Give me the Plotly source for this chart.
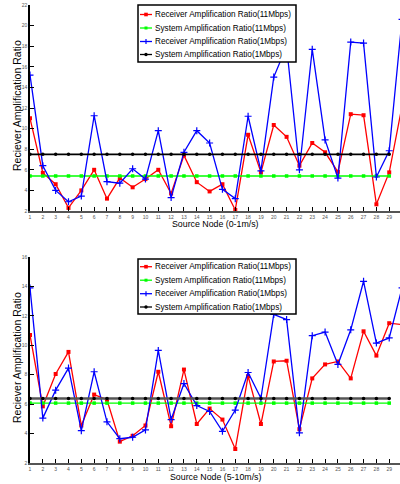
import plotly.graph_objects as go

nodes = list(range(1, 31))

# Top panel: Source Node (0-1m/s)
top_rx_11 = [11.0, 5.7, 4.6, 2.3, 4.0, 6.0, 3.2, 5.2, 4.3, 5.1, 6.0, 3.7, 7.4, 4.8, 3.9,
             4.6, 2.1, 9.4, 5.75, 10.35, 9.2, 6.4, 8.6, 7.7, 5.8, 11.4, 11.3, 2.65, 5.75, 12.2]
top_sys_11 = [5.4] * 29
top_rx_1 = [15.2, 6.4, 4.0, 2.9, 3.45, 11.25, 4.85, 4.7, 6.1, 5.1, 9.8, 3.3, 7.7, 9.8, 8.6,
            4.1, 3.2, 11.2, 5.9, 15.0, 18.0, 6.0, 17.7, 8.9, 5.2, 18.4, 18.3, 5.3, 7.85, 20.6]
top_sys_1 = [7.5] * 29

# Bottom panel: Source Node (5-10m/s)
bot_rx_11 = [10.7, 5.85, 8.05, 9.55, 4.55, 6.65, 6.3, 3.45, 3.85, 4.55, 8.2, 4.5, 8.35, 4.65, 5.7,
             4.95, 2.95, 7.9, 4.65, 8.9, 8.95, 4.3, 7.75, 8.7, 8.9, 7.75, 10.95, 9.3, 11.5, 11.4]
bot_sys_11 = [6.07] * 29
bot_rx_1 = [13.9, 5.05, 6.95, 8.45, 4.2, 8.2, 4.8, 3.65, 3.75, 4.25, 9.65, 4.95, 7.4, 5.9, 5.5,
            4.15, 5.6, 8.15, 6.4, 12.1, 11.75, 4.05, 10.65, 10.9, 8.7, 11.05, 14.35, 10.15, 10.5, 13.9]
bot_sys_1 = [6.38] * 29

names = ["Receiver Amplification Ratio(11Mbps)", "System Amplification Ratio(11Mbps)",
         "Receiver Amplification Ratio(1Mbps)", "System Amplification Ratio(1Mbps)"]
x_titles = ["Source Node (0-1m/s)", "Source Node (5-10m/s)"]
y_title = "Reciever Amplification Ratio"
yticks_top = list(range(2, 23, 2))
yticks_bot = list(range(2, 17, 2))

FONT = "Liberation Sans"
W, H = 400, 484


def fy(px):
    return (H - px) / H


def fx(px):
    return px / W


colors = ["#ff0000", "#00ff00", "#0000ff", "#000000"]
symbols = ["square", "square", "cross-thin", "circle"]
msizes = [4, 3.5, 5, 3.5]

fig = go.Figure()


def add_panel(series, xa, ya, black_line):
    for i, (vals, nm) in enumerate(zip(series, names)):
        col = colors[i]
        lcol, lw = col, 1.3
        if i == 3:
            lcol, lw = black_line
        fig.add_trace(go.Scatter(
            x=nodes[:len(vals)], y=vals, name=nm, mode="lines+markers",
            xaxis=xa, yaxis=ya, showlegend=False,
            line=dict(color=lcol, width=lw),
            marker=dict(symbol=symbols[i], size=msizes[i], color=col,
                        line=dict(color=col, width=1.2 if symbols[i] == "cross-thin" else 0)),
            cliponaxis=True,
        ))


add_panel([top_rx_11, top_sys_11, top_rx_1, top_sys_1], "x", "y", ("#000000", 1.6))
add_panel([bot_rx_11, bot_sys_11, bot_rx_1, bot_sys_1], "x2", "y2", ("#555555", 2.6))

xcommon = dict(range=[1, 29.84], tickmode="array", tickvals=nodes, ticktext=[str(n) for n in nodes],
               ticks="inside", ticklen=4, tickcolor="#000000", tickwidth=1,
               showline=True, linecolor="#555555", linewidth=2, showgrid=False, zeroline=False,
               tickfont=dict(family=FONT, size=5, color="#555555"), domain=[fx(30), 1.0],
               automargin=False, ticklabelstandoff=0)
ycommon = dict(ticks="inside", ticklen=4, tickcolor="#000000", showline=True, linecolor="#000000",
               linewidth=1.5, showgrid=False, zeroline=False, automargin=False,
               tickfont=dict(family=FONT, size=5, color="#555555"))

shapes = []
annotations = []

# x and y axis titles
for title, ypx in zip(x_titles, [224, 477]):
    annotations.append(dict(text=title, x=fx(215), y=fy(ypx), xref="paper", yref="paper",
                            xanchor="center", yanchor="middle", showarrow=False,
                            font=dict(family=FONT, size=8.8, color="#000")))
for ypx in [106, 358]:
    annotations.append(dict(text=y_title, x=fx(17), y=fy(ypx), xref="paper", yref="paper",
                            xanchor="center", yanchor="middle", showarrow=False, textangle=-90,
                            font=dict(family=FONT, size=10.5, color="#000")))


def legend_box(top, bottom, rows):
    shapes.append(dict(type="rect", xref="paper", yref="paper", layer="above",
                       x0=fx(138), x1=fx(296), y0=fy(bottom), y1=fy(top),
                       fillcolor="white", line=dict(color="black", width=1.5)))
    for i, (ry, nm) in enumerate(zip(rows, names)):
        col = colors[i]
        shapes.append(dict(type="line", xref="paper", yref="paper", layer="above",
                           x0=fx(140), x1=fx(152), y0=fy(ry), y1=fy(ry),
                           line=dict(color=col, width=1.3)))
        cx = 146
        if symbols[i] == "square":
            s = 1.8 if i == 0 else 1.5
            shapes.append(dict(type="rect", xref="paper", yref="paper", layer="above",
                               x0=fx(cx - s), x1=fx(cx + s), y0=fy(ry + s), y1=fy(ry - s),
                               fillcolor=col, line=dict(width=0)))
        elif symbols[i] == "cross-thin":
            shapes.append(dict(type="line", xref="paper", yref="paper", layer="above",
                               x0=fx(cx), x1=fx(cx), y0=fy(ry - 2.5), y1=fy(ry + 2.5),
                               line=dict(color=col, width=1.2)))
        else:
            shapes.append(dict(type="circle", xref="paper", yref="paper", layer="above",
                               x0=fx(cx - 1.7), x1=fx(cx + 1.7), y0=fy(ry + 1.7), y1=fy(ry - 1.7),
                               fillcolor=col, line=dict(width=0)))
        annotations.append(dict(text=nm, x=fx(153), y=fy(ry), xref="paper", yref="paper",
                                xanchor="left", yanchor="middle", showarrow=False,
                                font=dict(family=FONT, size=8.2, color="#000")))


legend_box(5, 62, [14.5, 28, 41.5, 54.5])
legend_box(259, 314, [266.7, 280.2, 293.7, 307])

fig.update_layout(
    width=W, height=H, margin=dict(l=0, r=0, t=0, b=0),
    paper_bgcolor="white", plot_bgcolor="white", showlegend=False,
    xaxis=dict(**xcommon, anchor="y"),
    yaxis=dict(**ycommon, range=[2, 22], tickvals=yticks_top, domain=[fy(211), fy(5)], anchor="x"),
    xaxis2=dict(**xcommon, anchor="y2"),
    yaxis2=dict(**ycommon, range=[2, 16], tickvals=yticks_bot, domain=[fy(463), fy(257)], anchor="x2"),
    shapes=shapes, annotations=annotations,
)

fig.write_html("out.html", config={"displayModeBar": False},
               post_script="document.body.style.margin='0';document.body.style.overflow='hidden';")
